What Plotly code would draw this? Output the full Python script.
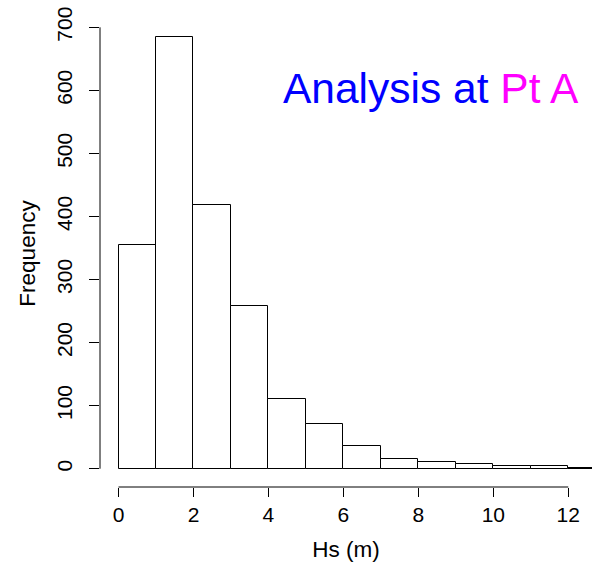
import plotly.graph_objects as go

# Histogram of Hs (m): bins of width 1 m
bin_left = [0, 1, 2, 3, 4, 5, 6, 7, 8, 9, 10, 11, 12]
bin_width = 1
counts = [354, 685, 418, 258, 110, 71, 36, 16, 10, 8, 4, 5, 1]

x_ticks = [0, 2, 4, 6, 8, 10, 12]
y_ticks = [0, 100, 200, 300, 400, 500, 600, 700]

title_part1 = "Analysis at "
title_part2 = "Pt A"
x_title = "Hs (m)"
y_title = "Frequency"

FONT = "Liberation Sans, Arial, sans-serif"

centers = [b + bin_width / 2 for b in bin_left]

fig = go.Figure()
fig.add_trace(go.Bar(
    x=centers, y=counts, width=[bin_width] * len(counts),
    marker=dict(color="white", line=dict(color="black", width=1)),
    hoverinfo="x+y",
))

fig.update_layout(
    width=592, height=565,
    margin=dict(l=100, r=0, t=20, b=78),
    paper_bgcolor="white", plot_bgcolor="white",
    showlegend=False,
    font=dict(family=FONT, size=21, color="black"),
    bargap=0,
)
fig.update_xaxes(
    range=[-0.494, 12.633], tickvals=x_ticks, ticktext=[str(v) for v in x_ticks],
    showgrid=False, zeroline=False, showline=False,
    ticks="outside", ticklen=9, tickcolor="black", tickwidth=1,
    tickfont=dict(size=21),
    title=dict(text=x_title, font=dict(size=22.5), standoff=16),
)
fig.update_yaxes(
    range=[-29.0, 711.6], tickvals=y_ticks, ticktext=[str(v) for v in y_ticks],
    showgrid=False, zeroline=False, showline=False,
    ticks="outside", ticklen=10, tickcolor="black", tickwidth=1,
    tickangle=-90, tickfont=dict(size=21), ticklabelstandoff=9,
    title=dict(text=y_title, font=dict(size=22.5), standoff=10),
)

# R-style axis lines spanning first to last tick only
fig.add_shape(type="line", xref="x", yref="paper", x0=x_ticks[0], x1=x_ticks[-1],
              y0=0, y1=0, line=dict(color="black", width=1))
fig.add_shape(type="line", xref="paper", yref="y", x0=0, x1=0,
              y0=y_ticks[0], y1=y_ticks[-1], line=dict(color="black", width=1))

fig.add_annotation(
    xref="paper", yref="paper", x=0.9776, y=0.853, xanchor="right", yanchor="middle",
    showarrow=False, font=dict(size=42.5, family=FONT),
    text=f"<span style='color:#0000FF'>{title_part1}</span><span style='color:#FF00FF'>{title_part2}</span>",
)

fig.write_html("out.html")
